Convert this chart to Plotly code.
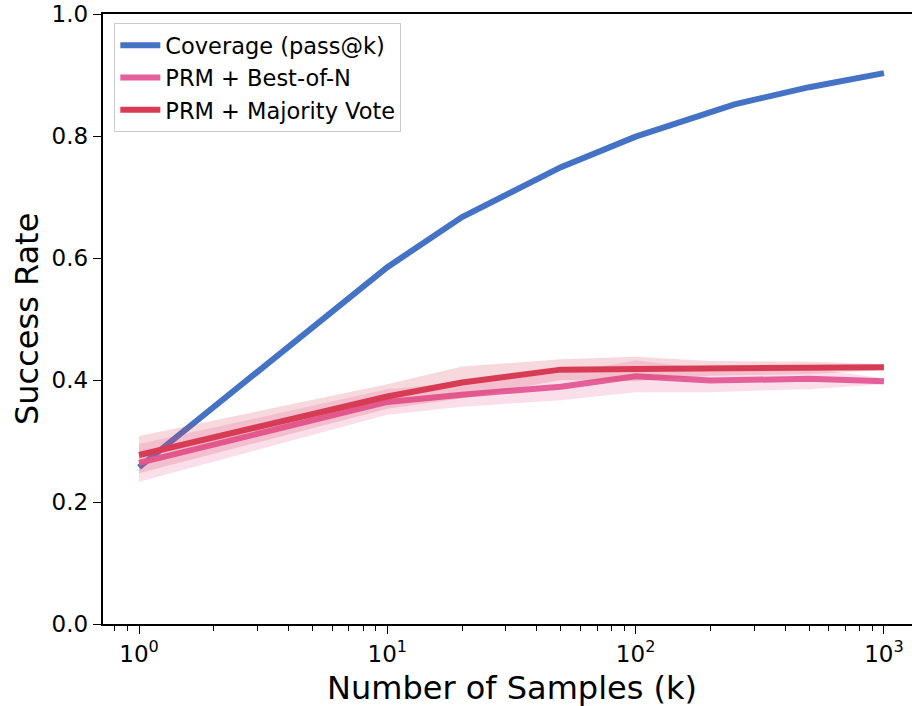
import plotly.graph_objects as go

# Data
cov_x = [1, 10, 20, 50, 100, 250, 500, 1000]
cov_y = [0.257, 0.585, 0.667, 0.749, 0.799, 0.852, 0.880, 0.903]

prm_x = [1, 10, 20, 50, 100, 200, 500, 1000]
bon_y = [0.264, 0.364, 0.376, 0.389, 0.406, 0.399, 0.402, 0.398]
bon_lo = [0.233, 0.343, 0.356, 0.367, 0.380, 0.380, 0.385, 0.393]
bon_hi = [0.295, 0.385, 0.396, 0.411, 0.432, 0.418, 0.419, 0.403]

maj_y = [0.277, 0.373, 0.396, 0.417, 0.418, 0.419, 0.420, 0.421]
maj_lo = [0.247, 0.353, 0.370, 0.400, 0.398, 0.407, 0.410, 0.416]
maj_hi = [0.308, 0.393, 0.422, 0.434, 0.438, 0.431, 0.430, 0.426]

x_tickvals = [1, 10, 100, 1000]
x_ticktext = ["10<sup>0</sup>", "10<sup>1</sup>", "10<sup>2</sup>", "10<sup>3</sup>"]
y_tickvals = [0, 0.2, 0.4, 0.6, 0.8, 1.0]

BLUE = "#4472c4"
PINK = "#e5609a"
RED = "#d83c55"
font = "DejaVu Sans"

fig = go.Figure()

fig.add_trace(go.Scatter(x=cov_x, y=cov_y, mode="lines", name="Coverage (pass@k)",
                         line=dict(color=BLUE, width=6)))

# Best-of-N band + line
fig.add_trace(go.Scatter(x=prm_x, y=bon_lo, mode="lines", line=dict(width=0, color=PINK),
                         showlegend=False, hoverinfo="skip"))
fig.add_trace(go.Scatter(x=prm_x, y=bon_hi, mode="lines", line=dict(width=0, color=PINK),
                         fill="tonexty", fillcolor="rgba(229,96,154,0.2)",
                         showlegend=False, hoverinfo="skip"))
fig.add_trace(go.Scatter(x=prm_x, y=bon_y, mode="lines", name="PRM + Best-of-N",
                         line=dict(color=PINK, width=6)))

# Majority band + line
fig.add_trace(go.Scatter(x=prm_x, y=maj_lo, mode="lines", line=dict(width=0, color=RED),
                         showlegend=False, hoverinfo="skip"))
fig.add_trace(go.Scatter(x=prm_x, y=maj_hi, mode="lines", line=dict(width=0, color=RED),
                         fill="tonexty", fillcolor="rgba(216,60,85,0.2)",
                         showlegend=False, hoverinfo="skip"))
fig.add_trace(go.Scatter(x=prm_x, y=maj_y, mode="lines", name="PRM + Majority Vote",
                         line=dict(color=RED, width=6)))

minor_vals = [m * 10 ** e for e in range(-1, 4) for m in range(2, 10)]

L, R, T, B = 103, 912, 14, 624
fig.update_layout(
    width=912, height=706,
    margin=dict(l=L, r=912 - R, t=T, b=706 - B),
    paper_bgcolor="white", plot_bgcolor="white",
    font=dict(family=font, size=23, color="black"),
    showlegend=True,
    legend=dict(x=0.014, y=0.985, xanchor="left", yanchor="top", traceorder="normal",
                bgcolor="rgba(255,255,255,0.9)", bordercolor="#cccccc", borderwidth=1,
                font=dict(family=font, size=22.5), tracegroupgap=0, itemwidth=40),
    xaxis=dict(type="log", range=[-0.145, 3.113],
               tickvals=x_tickvals, ticktext=x_ticktext,
               ticks="outside", ticklen=8.5, tickwidth=1.3, tickcolor="black",
               showline=True, linecolor="black", linewidth=1.5, mirror=True,
               showgrid=False, zeroline=False,
               minor=dict(tickvals=minor_vals, ticks="outside", ticklen=5, tickwidth=1,
                          tickcolor="black", showgrid=False),
               tickfont=dict(size=23)),
    yaxis=dict(range=[0, 1], tickvals=y_tickvals, tickformat=".1f",
               ticks="outside", ticklen=8.5, tickwidth=1.3, tickcolor="black",
               showline=True, linecolor="black", linewidth=1.5,
               showgrid=False, zeroline=False, tickfont=dict(size=23)),
    annotations=[
        dict(text="Number of Samples (k)", showarrow=False, font=dict(size=32),
             xanchor="center", yanchor="middle",
             x=(512 - L) / (R - L), xref="paper", y=-(688 - B) / (B - T), yref="paper"),
        dict(text="Success Rate", showarrow=False, font=dict(size=32),
             textangle=-90, xanchor="center", yanchor="middle",
             x=-(L - 27) / (R - L), xref="paper", y=(B - 319) / (B - T), yref="paper"),
    ],
)

fig.write_html("out.html")
